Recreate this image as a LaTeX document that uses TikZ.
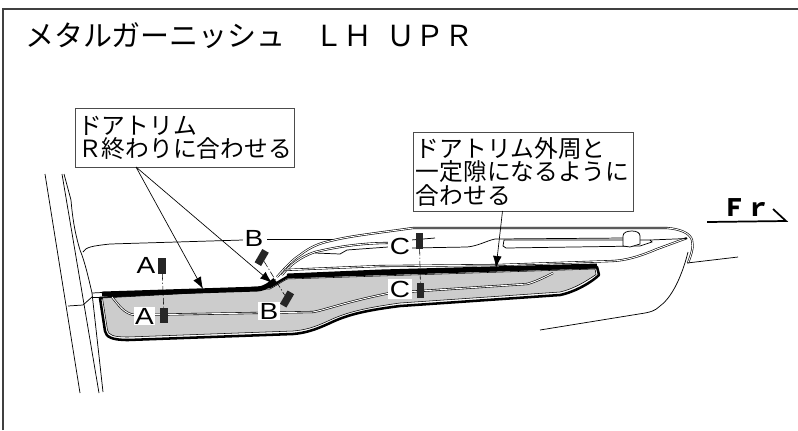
\documentclass[tikz,border=0pt]{standalone}
\usepackage{fontspec}
\setmainfont{Noto Sans CJK JP}
\newfontfamily\latinfont{Liberation Sans}
\usetikzlibrary{arrows.meta}
\tikzset{
  calloutbox/.style={draw=black!70,line width=0.7pt,fill=white,inner xsep=2pt,inner ysep=0pt,align=left,anchor=north west,font=\fontsize{17.8}{17.8}\selectfont},
  seclabel/.style={fill=white,inner sep=1pt,xscale=1.2,font=\latinfont\fontsize{17.5}{18}\selectfont},
  secblock/.style={fill=black!85,minimum width=5.6pt,minimum height=11.5pt,inner sep=0pt},
  pointer/.style={line width=0.5pt,-{Latex[length=9pt,width=6.5pt]}},
  secline/.style={line width=0.4pt,dash pattern=on 5pt off 1.5pt on 1pt off 1.5pt},
  trimline/.style={line width=0.55pt},
  twinline/.style={double=white,double distance=0.7pt,line width=0.45pt}
}
\begin{document}
\begin{tikzpicture}[x=0.75pt,y=0.75pt,yscale=-1,xscale=1]
\useasboundingbox (0,0) rectangle (798,430);
%Frame
\draw [black!75,line width=0.9pt] (3,430) -- (3,9) -- (798,9) ;
%Title
\node [anchor=west,font=\fontsize{21.75}{22}\selectfont] (title) at (20.6,36) {メタルガーニッシュ　ＬＨ\ \hspace{6pt}ＵＰＲ};
%Pillar lines
\draw [trimline] (45,174) -- (80,393) ;
\draw [trimline] (62,174) -- (99,393) ;
\draw [trimline] (64,174) -- (71,200) .. controls (73,225) and (77,240) .. (80,250) .. controls (85,262) and (89,280) .. (92,293) -- (103,392) ;
\draw [trimline] (68,306) -- (83,305) -- (92,297) ;
\draw [trimline] (92,293) -- (102,292.5) ;
\draw [trimline] (92,297) -- (101,297) ;
%Door trim, upper part
\draw [trimline] (83,252) .. controls (86,247) and (92,246) .. (110,244) -- (243,240) ;
\draw [trimline] (267,239) -- (333,239) ;
\draw [twinline] (277,277) .. controls (285,268) and (292,260) .. (300,255) .. controls (310,247) and (320,243) .. (330,241) .. controls (350,236) and (370,234) .. (413,228) -- (667,228) .. controls (680,229) and (690,233) .. (692,240) .. controls (694,247) and (691,255) .. (688,263) ;
\draw [twinline] (282,275) .. controls (290,265) and (300,257) .. (315,252) .. controls (340,246) and (365,243) .. (388,243) ;
\draw [trimline] (315,253) -- (340,254) -- (347,250) -- (388,247) ;
\draw [trimline] (411,240) -- (435,238) ;
\draw [trimline] (411,248) -- (467,247) .. controls (478,246) and (486,241) .. (495,239) -- (625,238) ;
\draw [trimline] (504,240) -- (650,240) -- (652,242) -- (640,246) -- (506,248) -- (503,246) -- cycle ;
\draw [trimline,fill=white] (623,236) .. controls (623,232) and (628,231) .. (632,231) .. controls (637,231) and (640,233) .. (640,236) -- (640,244) -- (630,247) -- (623,246) -- cycle ;
\draw [twinline] (284,270) -- (380,266) -- (497,265) -- (613,261) .. controls (630,260) and (645,254) .. (657,249) -- (687,238) ;
\draw [trimline] (650,240) -- (687,238.5) ;
%Door body
\draw [trimline] (688,252) .. controls (684,268) and (675,295) .. (660,306) .. controls (655,311) and (650,312) .. (645,313) -- (540,330) ;
\draw [trimline] (687,263) -- (738,257) ;
%Garnish panel
\draw [fill=white,line width=1.9pt,line join=round] (100,298) -- (105,331) .. controls (106,337) and (112,340) .. (128,340) -- (293,334) .. controls (305,333) and (315,330) .. (330,323) .. controls (345,316) and (360,311) .. (400,306) -- (560,295) .. controls (575,292) and (592,282) .. (599,275) -- (597,267) -- (287,277) -- (270,287) -- cycle ;
\draw [fill=black!20,line width=0.4pt,line join=round] (102.5,298) -- (107.5,330) .. controls (108.5,335) and (113,337) .. (128,337) -- (293,331) .. controls (305,330) and (314,327.5) .. (329,320.5) .. controls (344,313.5) and (360,308.5) .. (400,303) -- (560,292) .. controls (574,289) and (588,280) .. (596,274.5) -- (595,269) -- (287,279) -- (270,289) -- cycle ;
%Moulding inside the panel
\draw [twinline] (112,297) .. controls (118,304) and (124,314) .. (135,315) -- (313,312) .. controls (325,310) and (345,302) .. (390,293) -- (527,284) .. controls (535,282) and (545,277) .. (553,273) ;
%Metal strip
\draw [line width=3.7pt] (102,294) -- (258,289) .. controls (266,288) and (270,284) .. (275,280) ;
\draw [line width=3.7pt] (287,276) -- (380,272) -- (597,266) ;
%Section lines and blocks
\node [secblock] (blockAup) at (162,266) {};
\node [secblock] (blockAlow) at (164,315.5) {};
\node [secblock,rotate=-30] (blockBup) at (261.7,257.5) {};
\node [secblock,rotate=-30] (blockBlow) at (287,299) {};
\node [secblock] (blockCup) at (419.5,241) {};
\node [secblock] (blockClow) at (420.5,290.5) {};
\draw [secline] (blockAup) -- (blockAlow) ;
\draw [secline] (blockBup) -- (blockBlow) ;
\draw [secline] (blockCup) -- (blockClow) ;
%Section letters
\node [seclabel,fill=none] (labelAup) at (146,265) {A};
\node [seclabel] (labelAlow) at (144.5,316) {A};
\node [seclabel] (labelBup) at (254,238) {B};
\node [seclabel] (labelBlow) at (269,311) {B};
\node [seclabel] (labelCup) at (400,246) {C};
\node [seclabel] (labelClow) at (400,289) {C};
%Callouts
\node [calloutbox,text width=160.2pt,minimum height=44.2pt] (noteR) at (75,108) {ドアトリム\\Ｒ終わりに合わせる};
\node [calloutbox,text width=161.2pt,minimum height=59.2pt] (noteGap) at (412.7,132) {ドアトリム外周と\\一定隙になるように\\合わせる};
\coordinate (tipA) at (203,289);
\coordinate (tipB) at (272,283);
\coordinate (tipC) at (496,268);
\coordinate (startR) at (136,167);
\coordinate (startGap) at (502.5,211);
\draw [pointer] (startR) -- (tipA) ;
\draw [pointer] (startR) -- (tipB) ;
\draw [pointer] (startGap) -- (tipC) ;
%Fr mark
\node [font=\fontsize{18}{20}\selectfont\bfseries] (front) at (746,207.5) {Ｆｒ};
\draw [line width=1.3pt] (707,222) -- (786,221) -- (773,209) ;
\end{tikzpicture}
\end{document}
